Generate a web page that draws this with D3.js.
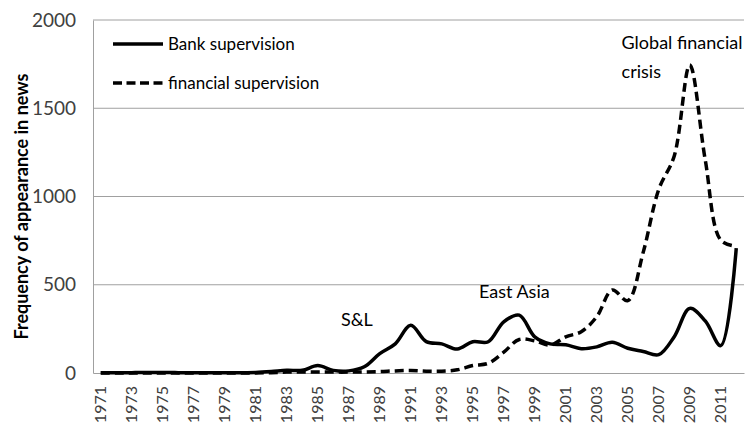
<!DOCTYPE html>
<html>
<head>
<meta charset="utf-8">
<script src="https://cdn.jsdelivr.net/npm/d3@7"></script>
<style>
  body { margin: 0; background: #fff; }
  svg { font-family: Lato, "Open Sans", sans-serif; }
</style>
</head>
<body>
<svg width="750" height="425"></svg>
<script>
const WIDTH = 750
const HEIGHT = 425

const years = d3.range(1971, 2013)
const bankSupervision = [
    2, 2, 2, 3, 3, 2, 2, 2, 2, 2,
    3, 8, 15, 15, 42, 15, 12, 35, 110, 165,
    270, 178, 165, 136, 177, 177, 290, 328, 205, 165,
    160, 138, 148, 174, 140, 122, 104, 206, 366, 295,
    155, 708
]
const financialSupervision = [
    0, 0, 0, 0, 0, 0, 0, 0, 0, 0,
    0, 2, 5, 5, 5, 5, 5, 6, 8, 12,
    14, 10, 10, 18, 42, 55, 118, 190, 182, 158,
    205, 234, 319, 470, 410, 685, 1040, 1230, 1745, 1207,
    753, 718
]
const yTicks = [0, 500, 1000, 1500, 2000]
const seriesNames = ['Bank supervision', 'financial supervision']
const annotations = [
    {year: 1986.5, value: 265, lines: ['S&L']},
    {year: 1995.4, value: 425, lines: ['East Asia']},
    {year: 2004.6, value: 1836, lines: ['Global financial', 'crisis']}
]

const margin = {top: 20, right: 6, bottom: 52, left: 93}
const svg = d3.select('svg')

const x = d3.scaleBand()
    .domain(years)
    .range([margin.left, WIDTH - margin.right])

// continuous year position, for the text notes
const xYear = d3.scaleLinear()
    .domain([1971, 2012])
    .range([margin.left + x.bandwidth() / 2, WIDTH - margin.right - x.bandwidth() / 2])

const y = d3.scaleLinear()
    .domain([0, 2000])
    .range([HEIGHT - margin.bottom, margin.top])

const cx = d => x(d) + x.bandwidth() / 2

// gridlines
svg.append('g')
    .selectAll('line')
    .data(yTicks.filter(t => t > 0))
    .enter().append('line')
    .attr('x1', margin.left)
    .attr('x2', WIDTH - margin.right)
    .attr('y1', d => y(d))
    .attr('y2', d => y(d))
    .attr('stroke', '#a0a0a0')
    .attr('stroke-width', 1)

// y axis
const yAxis = svg.append('g')
    .attr('transform', `translate(${margin.left},0)`)
    .call(d3.axisLeft(y).tickValues(yTicks).tickFormat(d3.format('d')).tickSize(0).tickPadding(17))
yAxis.select('.domain').attr('stroke', '#a0a0a0')
yAxis.selectAll('text')
    .attr('font-size', 19)
    .attr('fill', '#404040')
    .attr('font-family', 'Lato, sans-serif')

// x axis
const xAxis = svg.append('g')
    .attr('transform', `translate(0,${y(0)})`)
    .call(d3.axisBottom(x).tickValues(years.filter((d, i) => i % 2 === 0)).tickSize(0))
xAxis.select('.domain').attr('stroke', '#a0a0a0')
xAxis.selectAll('text')
    .attr('font-size', 16)
    .attr('fill', '#404040')
    .attr('font-family', 'Lato, sans-serif')
    .attr('transform', 'rotate(-90)')
    .attr('text-anchor', 'end')
    .attr('dy', '0.35em')
    .attr('x', -13)
    .attr('y', 0)

// y title
svg.append('text')
    .attr('transform', `translate(28,${(margin.top + y(0)) / 2 + 10}) rotate(-90)`)
    .attr('text-anchor', 'middle')
    .attr('font-size', 18)
    .attr('font-weight', 'bold')
    .attr('fill', '#000')
    .text('Frequency of appearance in news')

const line = d3.line()
    .x((d, i) => cx(years[i]))
    .y(d => y(d))
    .curve(d3.curveCatmullRom.alpha(0.5))

svg.append('path')
    .datum(financialSupervision)
    .attr('d', line)
    .attr('fill', 'none')
    .attr('stroke', '#000')
    .attr('stroke-width', 3.5)
    .attr('stroke-dasharray', '9,5')

svg.append('path')
    .datum(bankSupervision)
    .attr('d', line)
    .attr('fill', 'none')
    .attr('stroke', '#000')
    .attr('stroke-width', 3.5)

// legend
const legend = svg.append('g')
    .selectAll('g')
    .data(seriesNames)
    .enter().append('g')
    .attr('transform', (d, i) => `translate(113,${44 + i * 39})`)

legend.append('line')
    .attr('x1', 0)
    .attr('x2', 50)
    .attr('stroke', '#000')
    .attr('stroke-width', 3.5)
    .attr('stroke-dasharray', (d, i) => i === 1 ? '9,4.5' : null)

legend.append('text')
    .attr('x', 55)
    .attr('dy', '0.35em')
    .attr('font-size', 17)
    .attr('fill', '#000')
    .text(d => d)

// annotations
const notes = svg.append('g')
    .selectAll('text')
    .data(annotations)
    .enter().append('text')
    .attr('x', d => xYear(d.year))
    .attr('y', d => y(d.value))
    .attr('font-size', 18)
    .attr('fill', '#000')

notes.selectAll('tspan')
    .data(d => d.lines)
    .enter().append('tspan')
    .attr('x', function() { return d3.select(this.parentNode).attr('x') })
    .attr('dy', (d, i) => i === 0 ? 0 : 29)
    .text(d => d)
</script>
</body>
</html>
